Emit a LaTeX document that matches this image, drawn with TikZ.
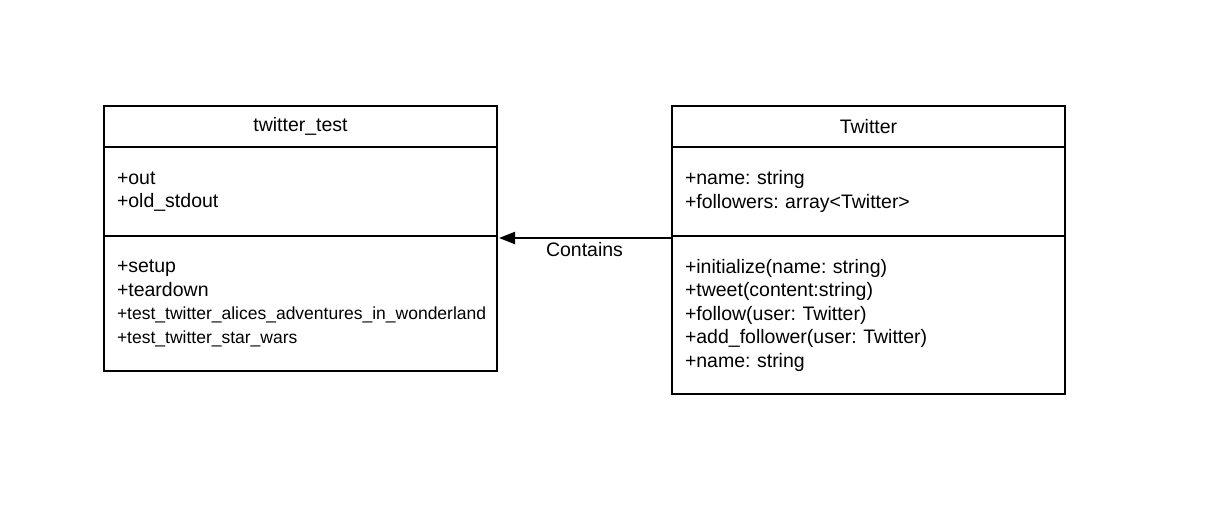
\documentclass[tikz,border=0pt]{standalone}
\usepackage{fontspec}
\setmainfont{Liberation Sans}
\frenchspacing
\usetikzlibrary{positioning,arrows.meta}
\tikzset{
 part/.style={draw,line width=2pt,outer sep=0pt,minimum width=393pt,inner xsep=13pt,inner ysep=0pt,
   text width=367pt,align=left,font=\fontsize{19.5}{23.5}\selectfont},
 head/.style={part,align=center,minimum height=41pt},
 assoc/.style={line width=2pt,shorten >=2pt,-{Triangle[length=16pt,width=12pt]}}
}
\newcommand{\smalltxt}[1]{{\fontsize{17.5}{23.5}\selectfont #1}}
\begin{document}
\begin{tikzpicture}[x=1pt,y=-1pt]
 \useasboundingbox (0,0) rectangle (1212,518);
 % twitter_test
 \node[head] (ttHead) at (300.5,126.5) {twitter\_test};
 \node[part,minimum height=89pt,below=0pt of ttHead] (ttAttr) {+out\\+old\_stdout\\[6pt]};
 \node[part,minimum height=135pt,below=0pt of ttAttr] (ttMeth) {+setup\\+teardown\\
   \smalltxt{+test\_twitter\_alices\_adventures\_in\_wonderland}\\
   \smalltxt{+test\_twitter\_star\_wars}\\[6pt]};
 % Twitter
 \node[head] (twHead) at (868.5,126.5) {Twitter};
 \node[part,minimum height=89pt,below=0pt of twHead] (twAttr) {+name: string\\+followers: array<Twitter>\\[6pt]};
 \node[part,minimum height=158pt,below=0pt of twAttr] (twMeth) {+initialize(name: string)\\
   +tweet(content:string)\\+follow(user: Twitter)\\+add\_follower(user: Twitter)\\+name: string\\[6pt]};
 \draw[assoc] ([yshift=-2pt]twMeth.north west) -- ([yshift=-2pt]ttMeth.north east)
   node[midway,below=0pt,font=\fontsize{19.5}{23.5}\selectfont] (lbl) {Contains};
\end{tikzpicture}
\end{document}
